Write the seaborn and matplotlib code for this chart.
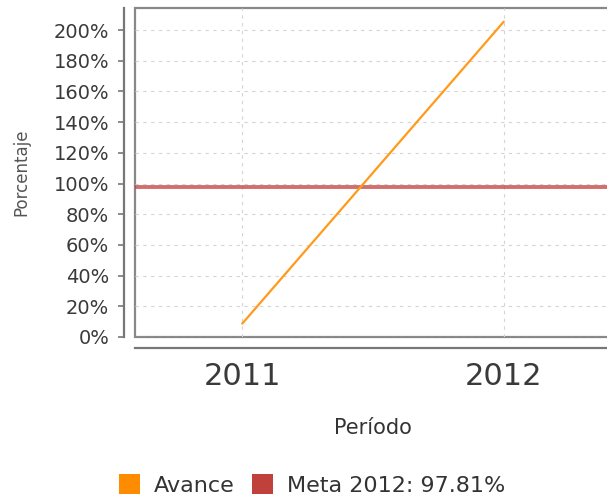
import matplotlib
matplotlib.use('Agg')
import matplotlib.pyplot as plt
from matplotlib.patches import Patch
from matplotlib.ticker import FuncFormatter
import pandas as pd
import seaborn as sns

# data
periods = [2011, 2012]
avance = [8.7, 205.5]
meta_value = 97.81
meta_label = 'Meta 2012: 97.81%'
y_ticks = list(range(0, 201, 20))

ORANGE = '#ff8c00'
RED = '#c0403c'
TEXT = '#3a3a3a'


def main():
    sns.set_theme(style='whitegrid')
    plt.rcParams['font.family'] = ['DejaVu Sans']

    df = pd.DataFrame({'Período': periods, 'Avance': avance})

    fig = plt.figure(figsize=(6.07, 4.95), dpi=100)
    ax = fig.add_axes([135 / 607, 1 - 337 / 495, 476 / 607, 329 / 495])

    # meta line first, orange line on top of it
    ax.axhline(meta_value, color=RED, alpha=0.75, linewidth=2.8, zorder=2)
    sns.lineplot(data=df, x='Período', y='Avance', color='#ff9a1a',
                 linewidth=1.6, ax=ax, zorder=3)

    ax.set_xlim(2010.59, 2012.41)
    ax.set_ylim(0, 214.4)
    ax.set_xticks(periods)
    ax.set_xticklabels([str(p) for p in periods])
    ax.set_yticks(y_ticks)
    ax.yaxis.set_major_formatter(FuncFormatter(lambda v, _: f'{int(v)}%'))

    # dashed grid
    ax.grid(True, color='#d4d4d4', linestyle=(0, (3, 4)), linewidth=0.8)

    # plot frame
    ax.patch.set_facecolor('white')
    ax.patch.set_edgecolor('#888888')
    ax.patch.set_linewidth(1.6)

    for side in ['top', 'right']:
        ax.spines[side].set_visible(False)
    for side in ['left', 'bottom']:
        ax.spines[side].set_visible(True)
        ax.spines[side].set_color('#777777')
        ax.spines[side].set_linewidth(1.6)
        ax.spines[side].set_position(('outward', 8))

    ax.tick_params(axis='y', left=True, length=4.5, width=1.2, color='#777777',
                   pad=6, labelsize=14, labelcolor=TEXT)
    ax.tick_params(axis='x', bottom=False, length=0, pad=10,
                   labelsize=22, labelcolor=TEXT)

    ax.set_xlabel('Período', fontsize=15, color='#333333')
    ax.xaxis.set_label_coords(0.5, -0.245)
    ax.set_ylabel('Porcentaje', fontsize=12, color='#555555')
    ax.yaxis.set_label_coords(-0.22, 0.5)

    handles = [Patch(facecolor=ORANGE, edgecolor='none', label='Avance'),
               Patch(facecolor=RED, edgecolor='none', label=meta_label)]
    fig.legend(handles=handles, loc='center', bbox_to_anchor=(312 / 607, 10 / 495),
               ncol=2, frameon=False, fontsize=16, handlelength=0.95,
               handleheight=0.95, handletextpad=0.6, columnspacing=0.8,
               labelcolor='#333333')

    fig.savefig('out.png', dpi=100)
    plt.close(fig)


if __name__ == '__main__':
    main()
